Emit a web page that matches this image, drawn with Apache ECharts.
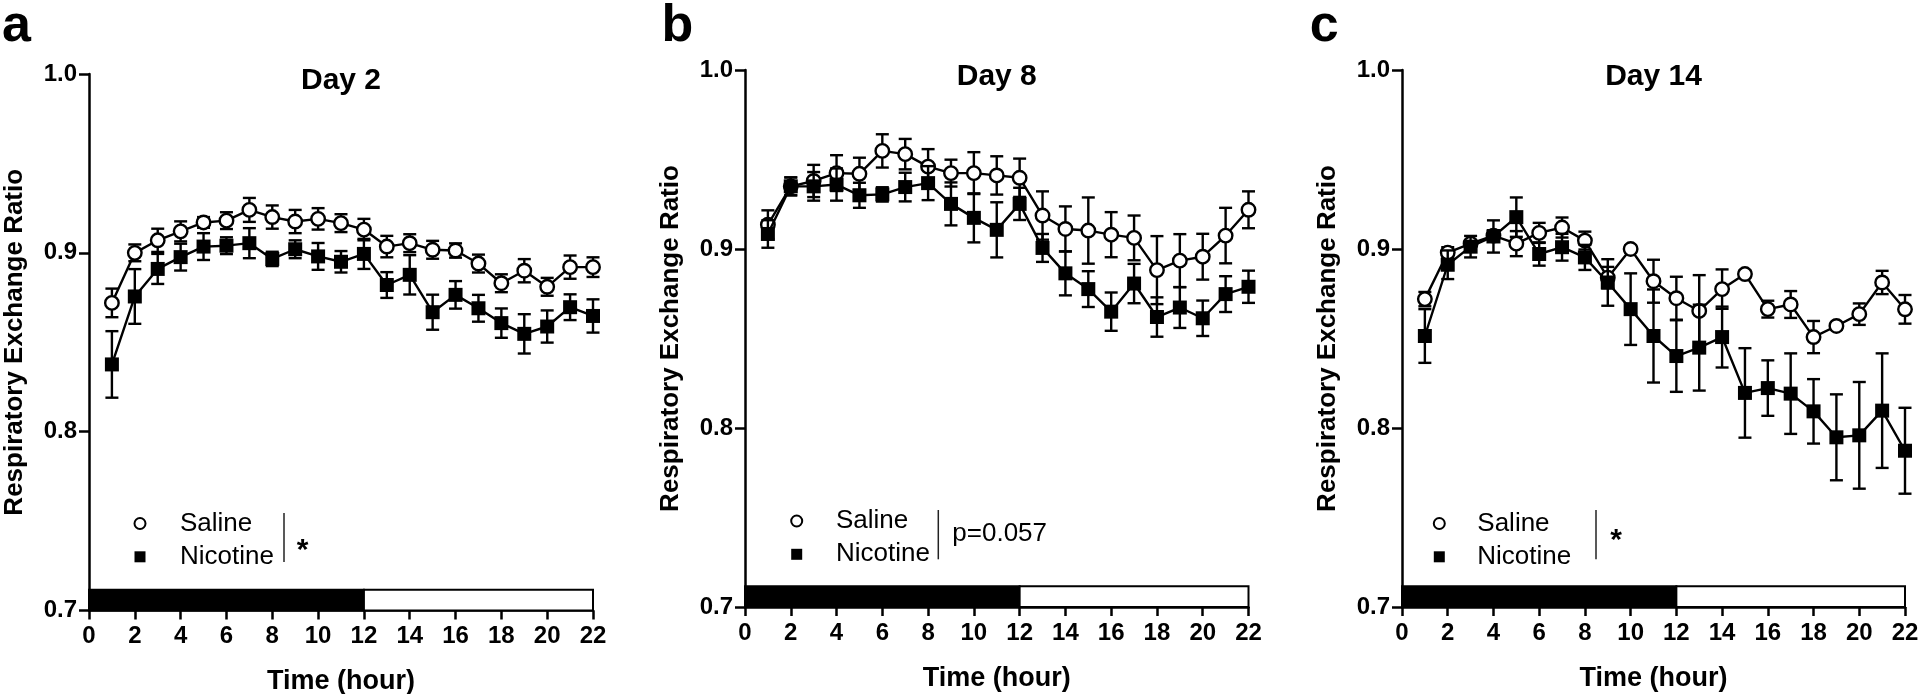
<!DOCTYPE html>
<html>
<head>
<meta charset="utf-8">
<script src="https://cdn.jsdelivr.net/npm/echarts@6/dist/echarts.min.js"></script>
<style>html,body{margin:0;padding:0;background:#fff;}#chart{width:1920px;height:694px;}</style>
</head>
<body>
<div id="chart"></div>
<script>
// ---------- data ----------
const hours = [1,2,3,4,5,6,7,8,9,10,11,12,13,14,15,16,17,18,19,20,21,22];
const xTicks = [0,2,4,6,8,10,12,14,16,18,20,22];
const yTicks = [0.7,0.8,0.9,1.0];
const panelLetters = ['a','b','c'];
const panelTitles = ['Day 2','Day 8','Day 14'];
const groupNames = ['Saline','Nicotine'];
const statLabels = ['*','p=0.057','*'];
const phases = [[0,12],[12,22]]; // dark (lights off) / light

const day2Saline = [0.872,0.900,0.907,0.912,0.917,0.918,0.924,0.920,0.9175,0.919,0.9166,0.913,0.9035,0.9054,0.9017,0.9013,0.894,0.883,0.890,0.881,0.892,0.892];
const day2SalineErr = [0.008,0.0047,0.0065,0.0056,0.003,0.0047,0.0067,0.0065,0.0065,0.006,0.005,0.006,0.006,0.005,0.005,0.004,0.005,0.005,0.0065,0.005,0.0065,0.0055];
const day2Nicotine = [0.8376,0.8756,0.891,0.8976,0.9035,0.904,0.9054,0.8966,0.902,0.898,0.895,0.8994,0.882,0.8877,0.8668,0.8765,0.869,0.8607,0.8547,0.8588,0.8696,0.8647];
const day2NicotineErr = [0.0186,0.0153,0.0084,0.0075,0.0075,0.0047,0.0084,0.004,0.005,0.0075,0.006,0.0084,0.0072,0.011,0.0098,0.0077,0.0075,0.0082,0.011,0.009,0.0072,0.0093];

const day8Saline = [0.9136,0.935,0.938,0.9424,0.942,0.9548,0.953,0.946,0.9424,0.9424,0.9411,0.9398,0.9187,0.9112,0.9103,0.908,0.9062,0.8882,0.8935,0.8957,0.9075,0.9219];
const day8SalineErr = [0.008,0.005,0.009,0.010,0.009,0.0093,0.0085,0.0098,0.0075,0.0117,0.0107,0.0107,0.0135,0.0126,0.0185,0.0126,0.0125,0.019,0.0148,0.0128,0.0155,0.0103];
const day8Nicotine = [0.9084,0.935,0.935,0.936,0.930,0.9305,0.9346,0.9368,0.9252,0.9174,0.9107,0.9252,0.9006,0.8864,0.8776,0.865,0.8807,0.862,0.8673,0.8613,0.8748,0.8789];
const day8NicotineErr = [0.0077,0.005,0.008,0.009,0.007,0.004,0.008,0.0095,0.012,0.0137,0.0154,0.009,0.0078,0.0123,0.010,0.0107,0.011,0.011,0.0114,0.0099,0.010,0.009];

const day14Saline = [0.872,0.898,0.903,0.9075,0.903,0.909,0.912,0.9047,0.884,0.900,0.882,0.8725,0.8654,0.8776,0.886,0.8664,0.869,0.8508,0.857,0.8636,0.8813,0.8663];
const day14SalineErr = [0.004,0.003,0.002,0.003,0.007,0.0056,0.0056,0.005,0.006,0.002,0.012,0.012,0.020,0.011,0.002,0.0047,0.0075,0.009,0.002,0.006,0.0065,0.008];
const day14Nicotine = [0.8514,0.8912,0.9013,0.907,0.9178,0.8972,0.901,0.8953,0.8813,0.8664,0.8514,0.8402,0.8449,0.8508,0.8196,0.8223,0.8192,0.8093,0.7948,0.7959,0.8097,0.7873];
const day14NicotineErr = [0.015,0.008,0.006,0.009,0.011,0.0065,0.0075,0.007,0.013,0.020,0.026,0.020,0.024,0.017,0.025,0.0155,0.0225,0.018,0.024,0.0298,0.032,0.024];

// ---------- layout / style ----------
const FONT = '"Liberation Sans", Arial, Helvetica, sans-serif';
const panels = [
  {grid:{left:89, top:74, width:504, height:536.5}, sal:day2Saline, salE:day2SalineErr, nic:day2Nicotine, nicE:day2NicotineErr,
   titleY:80.3, letterX:2, letterY:27,
   legend:{left:133.5, top:510.5, itemWidth:70}, sep:{x:284, y1:513, y2:562}, stat:{x:302.7, y:550.7, size:30, bold:true, align:'center'}},
  {grid:{left:745, top:70, width:503.5, height:537}, sal:day8Saline, salE:day8SalineErr, nic:day8Nicotine, nicE:day8NicotineErr,
   titleY:77, letterX:661.5, letterY:26.5,
   legend:{left:790.2, top:508, itemWidth:68.6}, sep:{x:938.3, y1:510, y2:559.3}, stat:{x:952.3, y:534, size:26, bold:false, align:'left'}},
  {grid:{left:1402, top:70, width:503, height:537}, sal:day14Saline, salE:day14SalineErr, nic:day14Nicotine, nicE:day14NicotineErr,
   titleY:77, letterX:1309.7, letterY:26.5,
   legend:{left:1432.8, top:510.5, itemWidth:66}, sep:{x:1596, y1:510, y2:559.3}, stat:{x:1616, y:540.4, size:30, bold:true, align:'center'}}
];

const BAR_TOP = 0.7116;
const SQUARE = 'path://M0,0L10,0L10,10L0,10Z';

function errRender(params, api) {
  const x = api.value(0), lo = api.value(1), hi = api.value(2);
  const p0 = api.coord([x, lo]), p1 = api.coord([x, hi]);
  const w = 6.5;
  const st = {stroke:'#000', lineWidth:2.4};
  return {type:'group', children:[
    {type:'line', shape:{x1:p0[0], y1:p0[1], x2:p1[0], y2:p1[1]}, style:st},
    {type:'line', shape:{x1:p0[0]-w, y1:p0[1], x2:p0[0]+w, y2:p0[1]}, style:st},
    {type:'line', shape:{x1:p1[0]-w, y1:p1[1], x2:p1[0]+w, y2:p1[1]}, style:st}
  ]};
}
function phaseRender(params, api) {
  const a = api.coord([api.value(0), yTicks[0]]);
  const b = api.coord([api.value(1), BAR_TOP]);
  const dark = params.dataIndex === 0;
  return {type:'rect', shape:{x:a[0], y:b[1], width:b[0]-a[0], height:a[1]-b[1]},
          style:{fill: dark ? '#000' : '#fff', stroke:'#000', lineWidth: 2}};
}

const grid = [], xAxis = [], yAxis = [], series = [], legend = [], graphic = [];
panels.forEach((p, i) => {
  grid.push(Object.assign({outerBoundsMode:'none', containLabel:false}, p.grid));
  xAxis.push({
    type:'value', gridIndex:i, min:xTicks[0], max:xTicks[xTicks.length-1], interval:xTicks[1]-xTicks[0],
    name:'Time (hour)', nameLocation:'middle', nameGap:58,
    nameTextStyle:{fontSize:27, fontWeight:'bold', fontFamily:FONT, color:'#000'},
    axisLine:{onZero:false, lineStyle:{color:'#000', width:2.5}},
    axisTick:{length:9, lineStyle:{color:'#000', width:2.5}},
    axisLabel:{margin:14, fontSize:24, fontWeight:'bold', fontFamily:FONT, color:'#000', showMinLabel:true, showMaxLabel:true},
    splitLine:{show:false}
  });
  yAxis.push({
    type:'value', gridIndex:i, min:yTicks[0], max:yTicks[yTicks.length-1], interval:0.1,
    name:'Respiratory Exchange Ratio', nameLocation:'middle', nameGap:61,
    nameTextStyle:{fontSize:26, fontWeight:'bold', fontFamily:FONT, color:'#000'},
    axisLine:{onZero:false, lineStyle:{color:'#000', width:2.5}},
    axisTick:{length:10, lineStyle:{color:'#000', width:2.5}},
    axisLabel:{margin:12, fontSize:24, fontWeight:'bold', fontFamily:FONT, color:'#000', formatter:v => v.toFixed(1)},
    splitLine:{show:false}
  });
  series.push({
    type:'custom', name:'phase'+i, xAxisIndex:i, yAxisIndex:i, renderItem:phaseRender, z:1, silent:true,
    encode:{x:[0,1]}, data:phases.map(ph => [ph[0], ph[1]])
  });
  series.push({
    type:'custom', name:'SalineErr'+i, xAxisIndex:i, yAxisIndex:i, renderItem:errRender, z:3, silent:true,
    encode:{x:0, y:[1,2]}, data:hours.map((h,k) => [h, p.sal[k]-p.salE[k], p.sal[k]+p.salE[k]])
  });
  series.push({
    type:'line', name:groupNames[0], xAxisIndex:i, yAxisIndex:i, z:4,
    data:hours.map((h,k) => [h, p.sal[k]]),
    symbol:'circle', symbolSize:13.5, showSymbol:true,
    itemStyle:{color:'#fff', borderColor:'#000', borderWidth:2.4},
    lineStyle:{color:'#000', width:2.4}
  });
  series.push({
    type:'custom', name:'NicotineErr'+i, xAxisIndex:i, yAxisIndex:i, renderItem:errRender, z:5, silent:true,
    encode:{x:0, y:[1,2]}, data:hours.map((h,k) => [h, p.nic[k]-p.nicE[k], p.nic[k]+p.nicE[k]])
  });
  series.push({
    type:'line', name:groupNames[1], xAxisIndex:i, yAxisIndex:i, z:6,
    data:hours.map((h,k) => [h, p.nic[k]]),
    symbol:'rect', symbolSize:14, showSymbol:true,
    itemStyle:{color:'#000', borderColor:'#000', borderWidth:0},
    lineStyle:{color:'#000', width:2.4}
  });
  legend.push({
    left:p.legend.left, top:p.legend.top, orient:'vertical', padding:0,
    itemWidth:p.legend.itemWidth, itemHeight:11, itemGap:7.3, selectedMode:false, symbolKeepAspect:true,
    textStyle:{fontSize:26, fontFamily:FONT, color:'#000', lineHeight:26},
    data:[
      {name:groupNames[0], icon:'circle', itemStyle:{color:'#fff', borderColor:'#000', borderWidth:2}},
      {name:groupNames[1], icon:SQUARE, itemStyle:{color:'#000', borderWidth:0}}
    ]
  });
  graphic.push({type:'text', x:p.letterX, y:p.letterY, style:{text:panelLetters[i], fontSize:52, fontWeight:'bold', fontFamily:FONT, fill:'#000', align:'left', verticalAlign:'middle'}});
  graphic.push({type:'text', x:p.grid.left + p.grid.width/2, y:p.titleY, style:{text:panelTitles[i], fontSize:30, fontWeight:'bold', fontFamily:FONT, fill:'#000', align:'center', verticalAlign:'middle'}});
  graphic.push({type:'line', shape:{x1:p.sep.x, y1:p.sep.y1, x2:p.sep.x, y2:p.sep.y2}, style:{stroke:'#222', lineWidth:1.5}});
  graphic.push({type:'text', x:p.stat.x, y:p.stat.y, style:{text:statLabels[i], fontSize:p.stat.size, fontWeight:p.stat.bold?'bold':'normal', fontFamily:FONT, fill:'#000', align:p.stat.align, verticalAlign:'middle'}});
});

const chart = echarts.init(document.getElementById('chart'), null, {renderer:'canvas'});
chart.setOption({
  animation:false,
  backgroundColor:'#fff',
  textStyle:{fontFamily:FONT},
  grid, xAxis, yAxis, series, legend, graphic
});
</script>
</body>
</html>
